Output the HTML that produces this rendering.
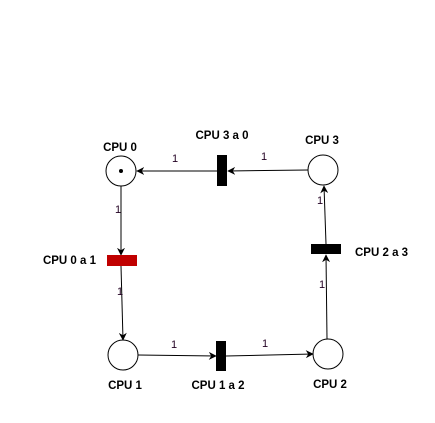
<!DOCTYPE html>
<html><head><style>
body{margin:0;background:#fff}
</style></head><body>
<svg width="435" height="418" viewBox="0 0 435 418" font-family="Liberation Sans, Arial, sans-serif" font-size="11">
<defs><marker id="a" viewBox="0 0 10 10" refX="9" refY="5" markerWidth="8" markerHeight="8" orient="auto"><path d="M0,0 L10,5 L0,10 L3,5 Z" fill="#000"/></marker></defs>
<g stroke="#000" stroke-width="1" fill="none">
<line x1="308" y1="170" x2="228" y2="171" marker-end="url(#a)"/>
<line x1="217" y1="171" x2="137" y2="171" marker-end="url(#a)"/>
<line x1="121" y1="186" x2="121" y2="255" marker-end="url(#a)"/>
<line x1="121" y1="266" x2="123" y2="340" marker-end="url(#a)"/>
<line x1="138" y1="355" x2="216" y2="356" marker-end="url(#a)"/>
<line x1="226" y1="356" x2="313" y2="354" marker-end="url(#a)"/>
<line x1="327" y1="339" x2="326" y2="255" marker-end="url(#a)"/>
<line x1="326" y1="244" x2="324" y2="186" marker-end="url(#a)"/>
<circle cx="121" cy="171" r="15"/>
<circle cx="323" cy="170" r="15"/>
<circle cx="123" cy="355" r="15"/>
<circle cx="328" cy="354" r="15"/>
</g>
<circle cx="121" cy="171" r="2" fill="#000"/>
<rect x="217" y="155" width="10" height="31" fill="#000"/>
<rect x="107" y="255" width="30" height="11" fill="#c00000"/>
<rect x="311" y="244" width="30" height="10" fill="#000"/>
<rect x="216" y="341" width="10" height="30" fill="#000"/>
<g font-weight="bold" font-size="11.5" fill="#000">
<text x="120" y="151" text-anchor="middle">CPU 0</text>
<text x="222" y="139" text-anchor="middle">CPU 3 a 0</text>
<text x="322" y="144" text-anchor="middle">CPU 3</text>
<text x="96" y="264" text-anchor="end">CPU 0 a 1</text>
<text x="355" y="256">CPU 2 a 3</text>
<text x="125" y="389" text-anchor="middle">CPU 1</text>
<text x="218" y="389" text-anchor="middle">CPU 1 a 2</text>
<text x="330" y="388" text-anchor="middle">CPU 2</text>
</g>
<g font-size="11" fill="#202">
<text x="175" y="162" text-anchor="middle">1</text>
<text x="264" y="160" text-anchor="middle">1</text>
<text x="118" y="213" text-anchor="middle">1</text>
<text x="120" y="295" text-anchor="middle">1</text>
<text x="320" y="204" text-anchor="middle">1</text>
<text x="322" y="288" text-anchor="middle">1</text>
<text x="174" y="348" text-anchor="middle">1</text>
<text x="265" y="347" text-anchor="middle">1</text>
</g>
</svg>
</body></html>
